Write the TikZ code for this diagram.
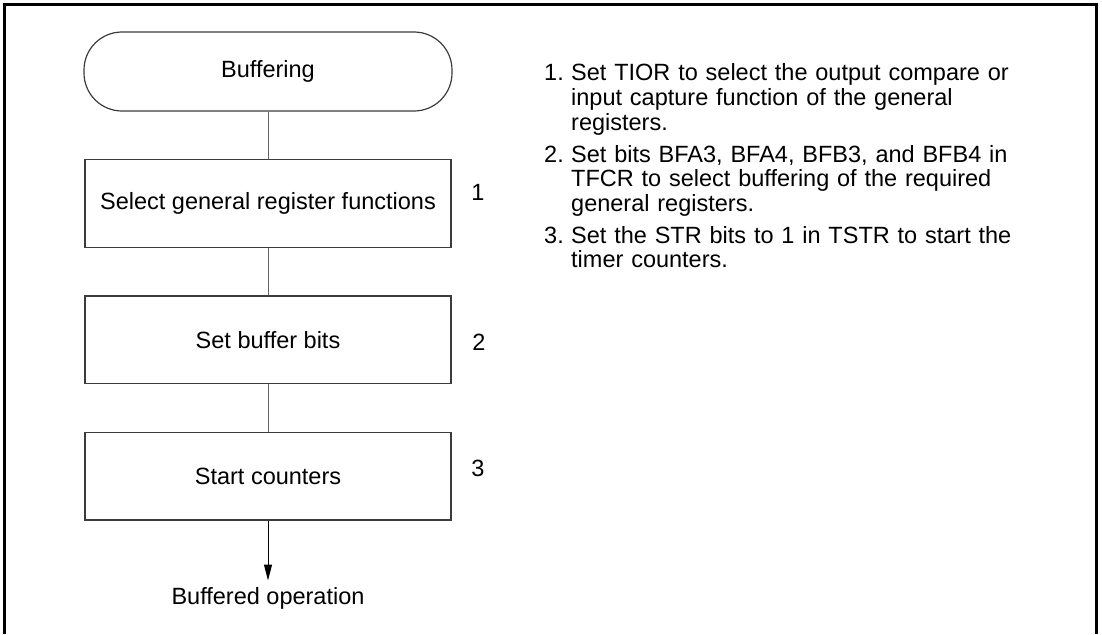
\documentclass[tikz,border=0pt]{standalone}
\usepackage{fontspec}
\setmainfont{Liberation Sans}
\usetikzlibrary{positioning, arrows.meta}
\definecolor{boxgrey}{RGB}{60, 60, 60}
\definecolor{linegrey}{RGB}{100, 100, 100}

\begin{document}
\begin{tikzpicture}[x=1pt, y=-1pt, node distance=47.5pt,
    every node/.style={font=\fontsize{23.5}{24.5}\selectfont},
    terminal/.style={rectangle, draw=boxgrey, line width=1.2pt, rounded corners=38pt, minimum width=368pt, minimum height=79pt},
    procbox/.style={rectangle, draw=boxgrey, line width=1.3pt, minimum width=366pt, minimum height=87.5pt},
    link/.style={draw=linegrey, line width=1pt},
    arrow/.style={link, -{Triangle[length=16pt, width=8pt]}, draw=black},
    stepnum/.style={anchor=base west, inner sep=0pt},
    notetext/.style={anchor=base west, inner sep=0pt, text width=480pt, align=left}]

    \useasboundingbox (0,0) rectangle (1102,634);
    % Frame (open at the bottom)
    \draw[line width=2.5pt] (4.5,634) -- (4.5,4.5) -- (1096.5,4.5) -- (1096.5,634);

    % Flow
    \node[terminal] (start) at (268,71.5) {Buffering};
    \node[procbox, below=of start] (selfunc) {Select general register functions};
    \node[procbox, below=of selfunc] (setbits) {Set buffer bits};
    \node[procbox, below=of setbits] (startcnt) {Start counters};
    \node[below=60pt of startcnt, inner sep=7pt] (done) {Buffered operation};

    \node (num1) at (478,192) {1};
    \node (num2) at (479,342) {2};
    \node (num3) at (478,468) {3};

    \draw[link] (start) -- (selfunc);
    \draw[link] (selfunc) -- (setbits);
    \draw[link] (setbits) -- (startcnt);
    \draw[arrow] (startcnt) -- (done);

    % Notes
    \node[stepnum] (item1) at (544,81) {1.};
    \node[notetext] (note1) at (571,81) {Set TIOR to select the output compare or\\input capture function of the general\\registers.};
    \node[stepnum] (item2) at (544,162) {2.};
    \node[notetext] (note2) at (571,162) {Set bits BFA3, BFA4, BFB3, and BFB4 in\\TFCR to select buffering of the required\\general registers.};
    \node[stepnum] (item3) at (544,243) {3.};
    \node[notetext] (note3) at (571,243) {Set the STR bits to 1 in TSTR to start the\\timer counters.};
\end{tikzpicture}
\end{document}
